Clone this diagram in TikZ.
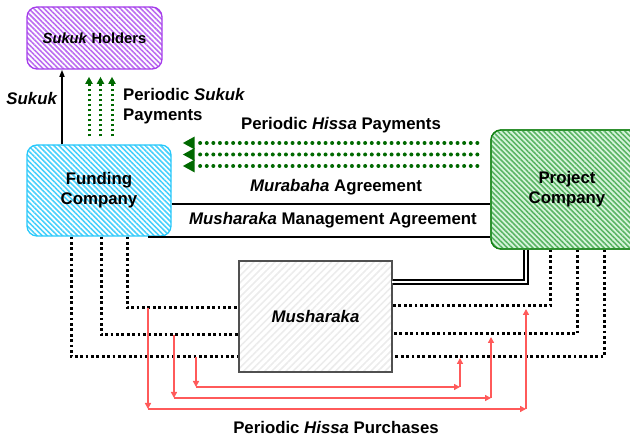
\documentclass[tikz,border=0pt]{standalone}
\usepackage{fontspec}
\setmainfont{Liberation Sans}
\usetikzlibrary{arrows.meta,patterns.meta}
\definecolor{holdc}{RGB}{165,60,235}
\definecolor{fundc}{RGB}{40,200,250}
\definecolor{projc}{RGB}{20,130,20}
\definecolor{projh}{RGB}{90,180,100}
\definecolor{projbg}{RGB}{215,245,220}
\definecolor{mushc}{RGB}{80,80,80}
\definecolor{mushh}{RGB}{236,236,236}
\definecolor{payc}{RGB}{0,105,0}
\definecolor{purc}{RGB}{255,90,90}
\begin{document}
\begin{tikzpicture}[x=1pt,y=-1pt,
  every node/.style={font=\bfseries\fontsize{16.8}{20}\selectfont},
  party/.style={draw, rounded corners=10pt, line width=1.3pt, inner sep=0pt, align=center},
  hatchback/.style={pattern={Lines[angle=-45,distance=3.6pt,line width=1.6pt]}},
  hatchfwd/.style={pattern={Lines[angle=45,distance=5pt,line width=1.6pt]}},
  solidln/.style={line width=1.5pt},
  blkdot/.style={line width=3pt, dash pattern=on 2.8pt off 2.6pt},
  payv/.style={payc, line width=3pt, dash pattern=on 2.6pt off 2.4pt, -{Triangle[length=7pt,width=7pt]}},
  payh/.style={payc, line width=4pt, line cap=round, dash pattern=on 0pt off 6.6pt, -{Triangle[length=12pt,width=12pt,line cap=butt]}},
  purch/.style={purc, line width=1.4pt, -{Triangle[length=6pt,width=6pt]}},
  lbl/.style={inner sep=0pt}]
\useasboundingbox (0,0) rectangle (630,438);
\clip (0,0) rectangle (630,438);

% parties
\node[party, draw=holdc, hatchback, pattern color=holdc!75,
      minimum width=135pt, minimum height=62pt] (holders) at (94.5,38)
      {\raisebox{-3pt}{\fontsize{14.7}{17}\selectfont\textit{Sukuk} Holders}};
\node[party, draw=fundc, hatchback, pattern color=fundc!85,
      minimum width=144pt, minimum height=91pt] (fund) at (99,190.5)
      {Funding\\Company};
\node[party, draw=projc, fill=projbg, minimum width=152pt, minimum height=119pt] (projbase) at (567,189.5) {};
\node[party, draw=projc, hatchback, pattern color=projh,
      minimum width=152pt, minimum height=119pt] (proj) at (567,189.5)
      {Project\\Company};
\node[draw=mushc, line width=1.2pt, hatchfwd, pattern color=mushh,
      minimum width=153pt, minimum height=111pt, inner sep=0pt] (mush) at (315.5,316.5)
      {\textit{Musharaka}};

% reference columns and rows
\coordinate (xs) at (62,0);
\coordinate (xp1) at (89,0);
\coordinate (xp2) at (100.5,0);
\coordinate (xp3) at (112,0);
\coordinate (yh1) at (0,143);
\coordinate (yh2) at (0,154.5);
\coordinate (yh3) at (0,166);
\coordinate (ymur) at (0,204);
\coordinate (ymgt) at (0,237);
\coordinate (xmgt) at (148,237);
\coordinate (xdbl) at (526,0);
\coordinate (ydbl) at (0,282);

% Sukuk issue
\draw[solidln, -{Triangle[length=7pt,width=5pt]}] (fund.north -| xs) -- (holders.south -| xs);
\node[lbl] (sukuk) at (32,98) {\textit{Sukuk}};

% periodic sukuk payments
\foreach \c in {xp1,xp2,xp3}
  \draw[payv, shorten <=8pt, shorten >=7pt] (fund.north -| \c) -- (holders.south -| \c);
\node[lbl, anchor=west, align=left] (sukpay) at (123,106) {Periodic \textit{Sukuk}\\Payments};

% periodic hissa payments
\foreach \r in {yh1,yh2,yh3}
  \draw[payh, shorten <=13pt, shorten >=11pt] (proj.west |- \r) -- (fund.east |- \r);
\node[lbl] (hispay) at (341,125) {Periodic \textit{Hissa} Payments};

% agreements
\draw[solidln] (fund.east |- ymur) -- (proj.west |- ymur);
\node[lbl] (murab) at (336,187) {\textit{Murabaha} Agreement};
\draw[solidln] (xmgt) -- (proj.west |- ymgt);
\node[lbl] (mgt) at (333,220) {\textit{Musharaka} Management Agreement};

% project company into the musharaka (double line)
\draw[line width=5.2pt] (proj.south -| xdbl) |- (mush.east |- ydbl);
\draw[white, line width=1.4pt] (proj.south -| xdbl) |- ([xshift=-1pt]mush.east |- ydbl);

% contributions of the two partners
\coordinate (fa) at (127,0);  \coordinate (ra) at (0,308);
\coordinate (fb) at (101,0);  \coordinate (rb) at (0,335);
\coordinate (fc) at (71,0);   \coordinate (rc) at (0,357);
\coordinate (pa) at (550,0);  \coordinate (sa) at (0,306);
\coordinate (pb) at (577,0);  \coordinate (sb) at (0,334);
\coordinate (pc) at (604,0);  \coordinate (sc) at (0,357);
\draw[blkdot] (fund.south -| fa) |- (mush.west |- ra);
\draw[blkdot] (fund.south -| fb) |- (mush.west |- rb);
\draw[blkdot] (fund.south -| fc) |- (mush.west |- rc);
\draw[blkdot] (proj.south -| pa) |- (mush.east |- sa);
\draw[blkdot] (proj.south -| pb) |- (mush.east |- sb);
\draw[blkdot] (proj.south -| pc) |- (mush.east |- sc);

% periodic hissa purchases
\coordinate (a1) at (148,308); \coordinate (a2) at (148,409); \coordinate (a3) at (526,409); \coordinate (a4) at (526,309);
\coordinate (b1) at (174,335); \coordinate (b2) at (174,398); \coordinate (b3) at (491,398); \coordinate (b4) at (491,337);
\coordinate (c1) at (196,357); \coordinate (c2) at (196,387); \coordinate (c3) at (460,387); \coordinate (c4) at (460,358);
\foreach \p in {a,b,c} {
  \draw[purch] (\p1) -- (\p2);
  \draw[purch] (\p2) -- (\p3);
  \draw[purch] (\p3) -- (\p4);
}
\node[lbl] (hispur) at (336,427) {Periodic \textit{Hissa} Purchases};
\end{tikzpicture}
\end{document}
